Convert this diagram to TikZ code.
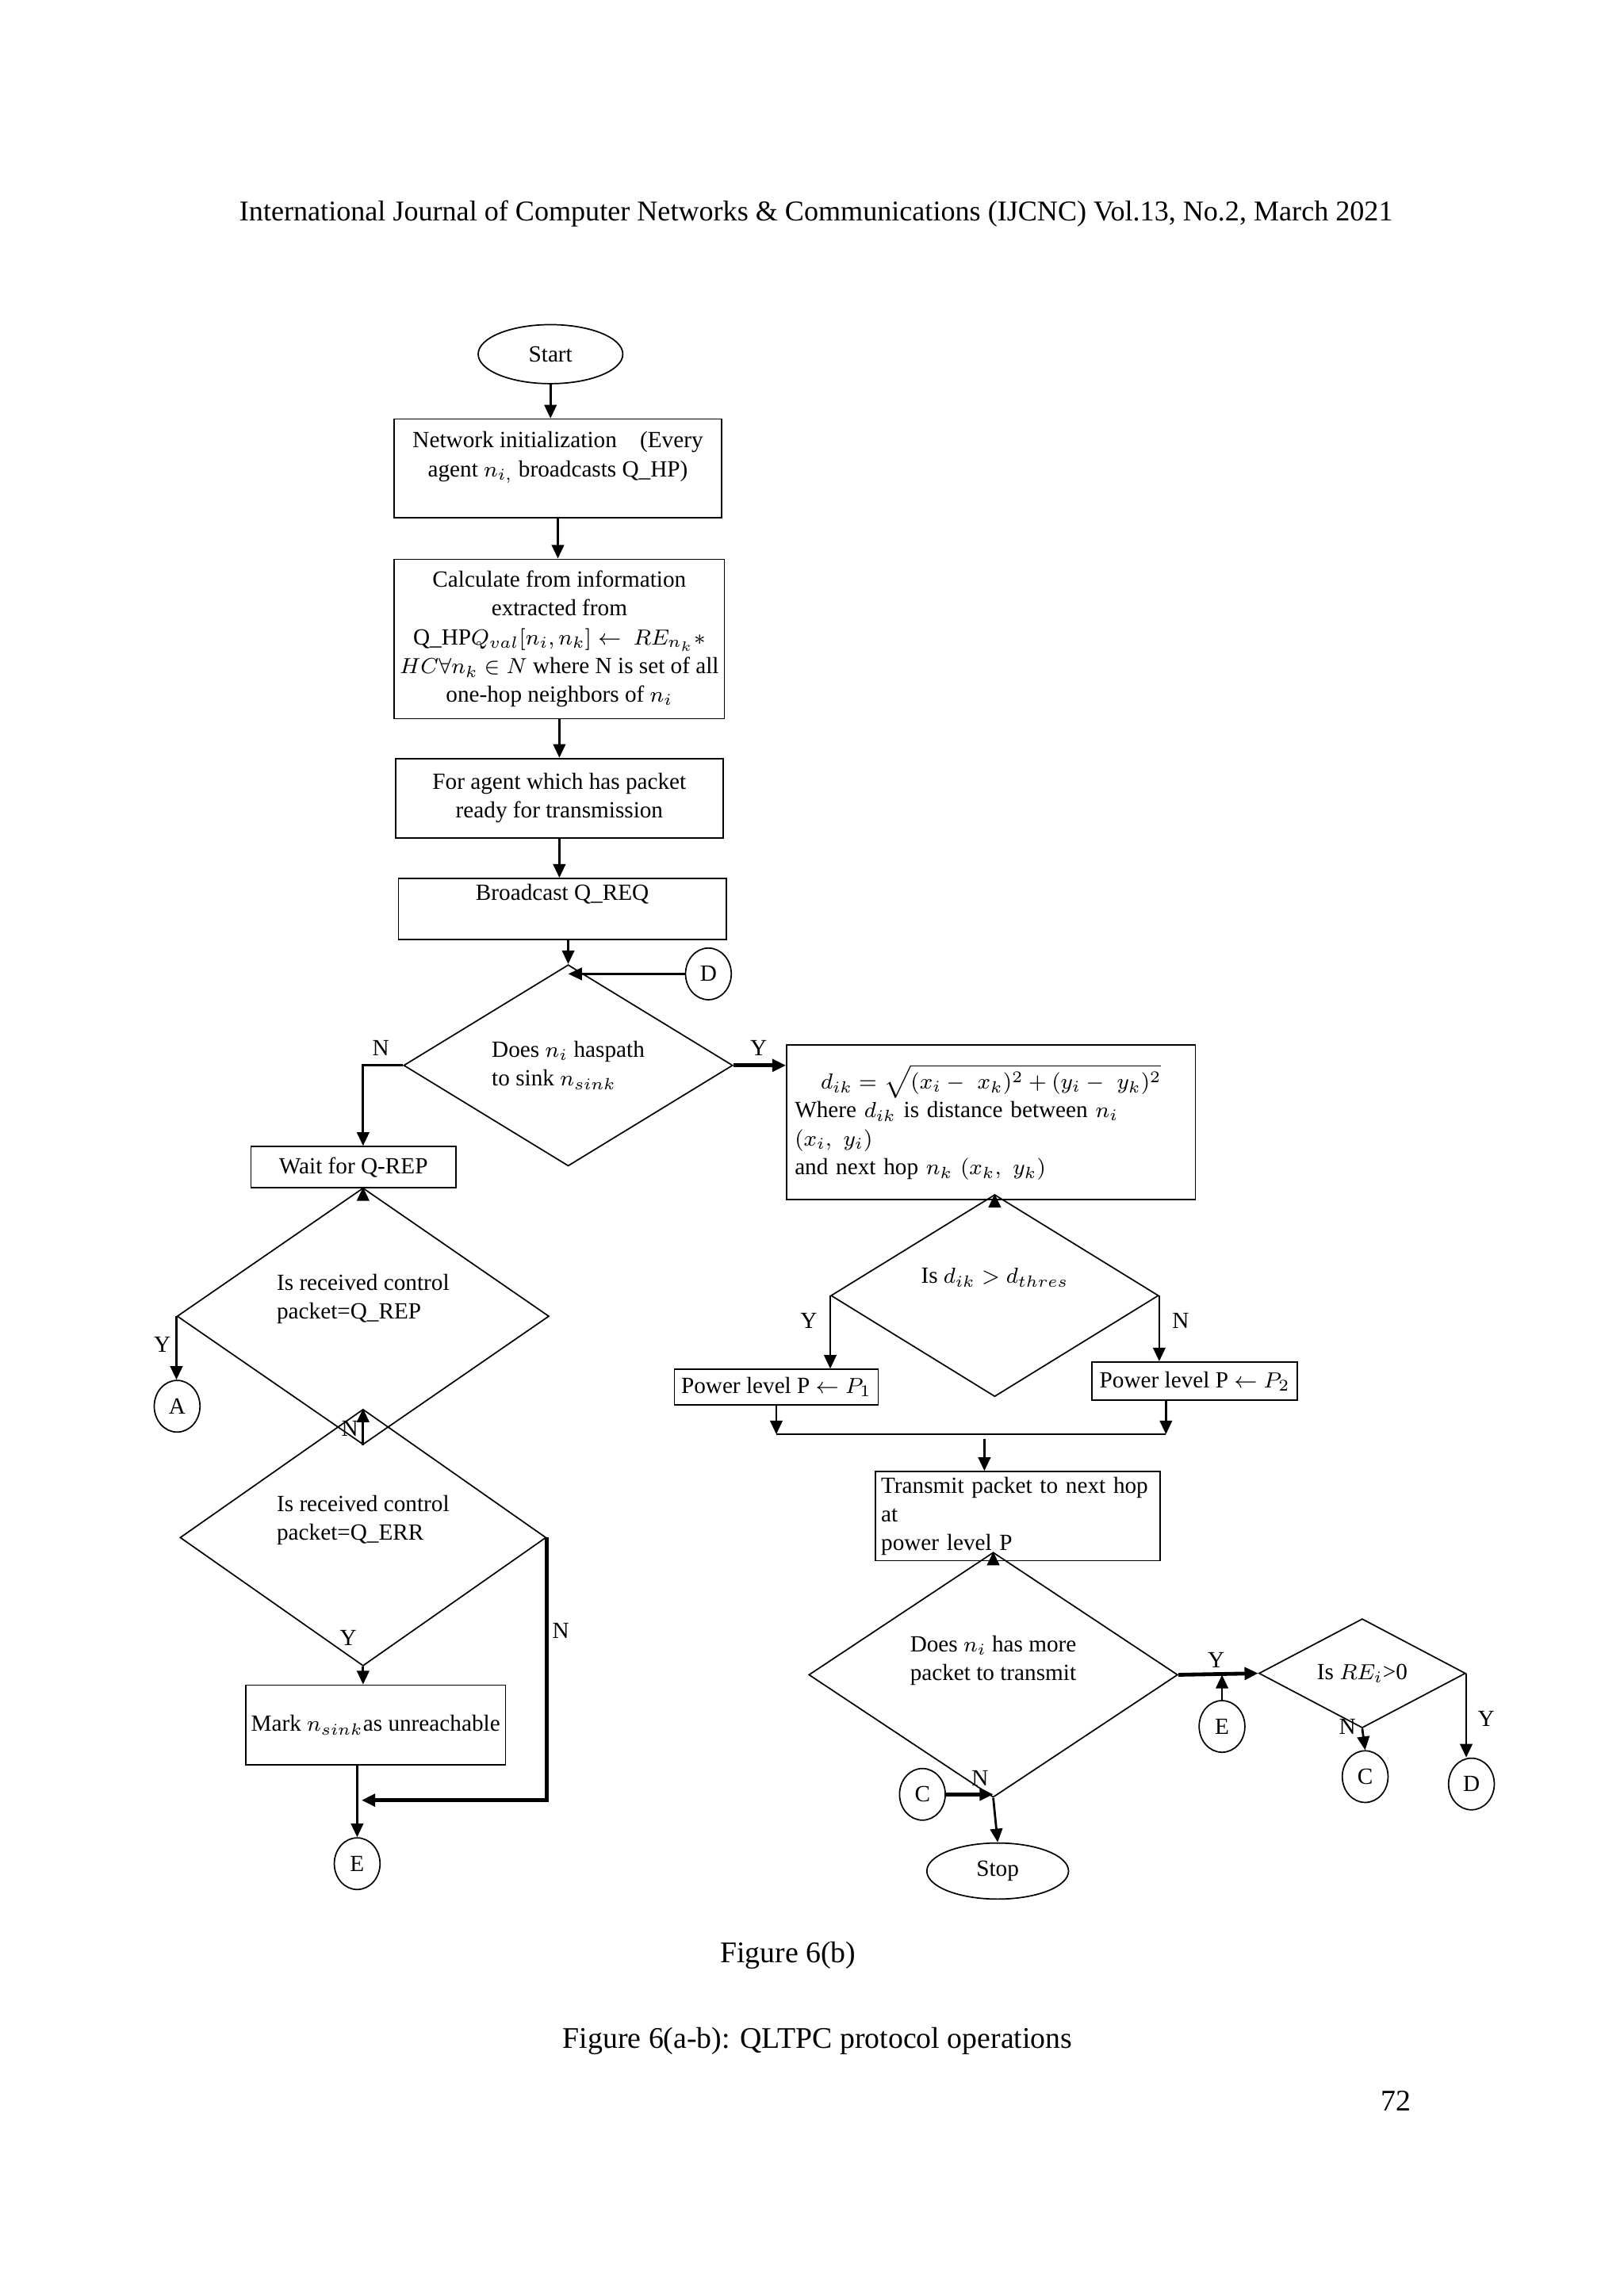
\documentclass[tikz,border=0pt]{standalone}
\usepackage{fontspec}
\setmainfont{Liberation Serif}
\usetikzlibrary{shapes.geometric,arrows.meta}
\begin{document}
\begin{tikzpicture}[x=0.5412pt,y=-0.5412pt,
  every node/.style={font=\fontsize{8.5}{10.5}\selectfont},
  box/.style={draw,line width=0.5pt,rectangle,inner sep=2pt,align=center},
  dia/.style={draw,line width=0.5pt,diamond,inner sep=0pt,align=left},
  con/.style={draw,line width=0.5pt,ellipse,inner sep=0pt,minimum width={31*0.5412pt},minimum height={35*0.5412pt}},
  arr/.style={line width=0.8pt,-{Triangle[length=5pt,width=4.5pt]}},
  ln/.style={line width=0.8pt},
  lab/.style={inner sep=0pt}]
\useasboundingbox (0,0) rectangle (1100,1556);
\node[font=\fontsize{10.5}{12}\selectfont] (hdr) at (553,145) {International Journal of Computer Networks \& Communications (IJCNC) Vol.13, No.2, March 2021};
\node[draw,line width=0.5pt,ellipse,minimum width={98*0.5412pt},minimum height={40*0.5412pt}] (start) at (373,240) {Start};
\node[box,minimum width={222*0.5412pt},minimum height={67*0.5412pt}] (b1) at (378,317.5) {Network initialization\quad (Every\\ agent $n_{i,}$ broadcasts Q\_HP)\\ \mbox{}};
\node[box,minimum width={222*0.5412pt},minimum height={108*0.5412pt}] (b2) at (379,433) {Calculate from information\\ extracted from\\ Q\_HP$Q_{val}[n_i,n_k]\leftarrow\ RE_{n_k}*$\\ $HC\forall n_k\in N$ where N is set of all\\ one-hop neighbors of $n_i$};
\node[box,minimum width={222*0.5412pt},minimum height={54*0.5412pt}] (b3) at (379,541) {For agent which has packet\\ ready for transmission};
\node[box,minimum width={222*0.5412pt},minimum height={40*0.5412pt}] (b4) at (381,616) {Broadcast Q\_REQ\\[2pt]};
\node[con] (D1) at (480,660) {D};
\node[dia,minimum width={223*0.5412pt},minimum height={92*0.5412pt}] (d1) at (385,722) {Does $n_i$ haspath\\ to sink $n_{sink}$};
\node[box,minimum width={139*0.5412pt},minimum height={28*0.5412pt}] (wait) at (239.5,791) {Wait for Q-REP};
\node[box,minimum width={277*0.5412pt},minimum height={105*0.5412pt},align=left,text width={266*0.5412pt}] (fbox) at (671.5,760.5) {\makebox[\linewidth]{$d_{ik}=\sqrt{(x_i-\ x_k)^2+(y_i-\ y_k)^2}$}\\ Where $d_{ik}$ is distance between $n_i$ $(x_i,\ y_i)$\\ and next hop $n_k$ $(x_k,\ y_k)$\\[6pt]};
\node[dia,minimum width={252*0.5412pt},minimum height={93*0.5412pt}] (d2) at (246,892) {Is received control\\ packet=Q\_REP\\[4pt]};
\node[con] (A) at (120,953) {A};
\node[dia,minimum width={248*0.5412pt},minimum height={93*0.5412pt}] (d3) at (246,1042) {Is received control\\ packet=Q\_ERR\\[4pt]};
\node[box,minimum width={165*0.5412pt},minimum height={54*0.5412pt}] (mark) at (254.5,1169) {Mark $n_{sink}$as unreachable};
\node[con] (E1) at (242,1263) {E};
\node[dia,minimum width={222*0.5412pt},minimum height={66*0.5412pt}] (d4) at (674,878) {Is $d_{ik}>d_{thres}$\\[4pt]};
\node[box,minimum width={138*0.5412pt},minimum height={24*0.5412pt}] (p1) at (526,940) {Power level P $\leftarrow P_1$};
\node[box,minimum width={139*0.5412pt},minimum height={26*0.5412pt}] (p2) at (809.5,936) {Power level P $\leftarrow P_2$};
\node[box,minimum width={193*0.5412pt},minimum height={53*0.5412pt},align=left,text width={185*0.5412pt}] (tx) at (689.5,1027.5) {Transmit packet to next hop at\\ power level P\\[3pt]};
\node[dia,minimum width={250*0.5412pt},minimum height={94*0.5412pt}] (d5) at (673,1135) {Does $n_i$ has more\\ packet to transmit\\[2pt]};
\node[dia,minimum width={140*0.5412pt},minimum height={53*0.5412pt}] (d6) at (923,1134) {Is $RE_i$>0};
\node[con] (E2) at (828,1170) {E};
\node[con] (C2) at (925,1204) {C};
\node[con] (D2) at (997,1209) {D};
\node[con] (C1) at (625,1216) {C};
\node[draw,line width=0.5pt,ellipse,minimum width={96*0.5412pt},minimum height={38*0.5412pt}] (stop) at (676,1268) {Stop};
% labels
\node[lab] (l1) at (258,710) {N};
\node[lab] (l2) at (514,710) {Y};
\node[lab] (l3) at (110,911) {Y};
\node[lab] (l4) at (237,968) {N};
\node[lab] (l5) at (236,1110) {Y};
\node[lab] (l6) at (380,1105) {N};
\node[lab] (l7) at (548,895) {Y};
\node[lab] (l8) at (800,895) {N};
\node[lab] (l9) at (824,1125) {Y};
\node[lab] (l10) at (913,1170) {N};
\node[lab] (l11) at (1007,1165) {Y};
\node[lab] (l12) at (664,1205) {N};
\node[font=\fontsize{11}{13}\selectfont] (cap1) at (534,1325) {Figure 6(b)};
\node[font=\fontsize{11}{13}\selectfont] (cap2) at (554,1383) {Figure 6(a-b): QLTPC protocol operations};
\node[font=\fontsize{11}{13}\selectfont] (pg) at (946,1424) {72};
% coordinates
\coordinate (j) at (245,1220);
\coordinate (m1) at (526,972);
\coordinate (m2) at (790,972);
\coordinate (m3) at (667,975);
% connectors
\draw[arr] (start.south) -- (start.south |- b1.north);
\draw[arr] (b1.south) -- (b1.south |- b2.north);
\draw[arr] (b2.south) -- (b2.south |- b3.north);
\draw[arr] (b3.south) -- (b3.south |- b4.north);
\draw[arr] (d1.north |- b4.south) -- (d1.north);
\draw[arr] (D1.west) -- (D1.west -| d1.north);
\draw[arr] (d1.west) -| (wait.north -| d2.north);
\draw[arr,line width=1.4pt] (d1.east) -- (d1.east -| fbox.west);
\draw[arr] (d2.north |- wait.south) -- (d2.north);
\draw[arr] (d2.west) -- (d2.west |- A.north);
\draw[arr] (d2.south) -- (d3.north);
\draw[arr] (d3.south) -- (d3.south |- mark.north);
\draw[arr,line width=1.4pt] (d3.east) |- (j);
\draw[arr] (E1 |- mark.south) -- (E1.north);
\draw[arr] (d4.north |- fbox.south) -- (d4.north);
\draw[arr] (d4.west) -- (d4.west |- p1.north);
\draw[arr] (d4.east) -- (d4.east |- p2.north);
\draw[arr] (p1.south) -- (m1);
\draw[arr] (m2 |- p2.south) -- (m2);
\draw[ln] (m1) -- (m2);
\draw[arr] (m3) -- (m3 |- tx.north);
\draw[arr] (d5.north |- tx.south) -- (d5.north);
\draw[arr,line width=1.4pt] (d5.east) -- (d6.west);
\draw[arr] (E2.north) -- (E2 |- d5.east);
\draw[arr] (d6.south) -- (C2.north);
\draw[arr] (d6.east) -- (d6.east |- D2.north);
\draw[arr] (d5.south) -- (stop.north);
\draw[arr,line width=1.4pt] (C1.east) -- (C1 -| d5.south);
\end{tikzpicture}
\end{document}
